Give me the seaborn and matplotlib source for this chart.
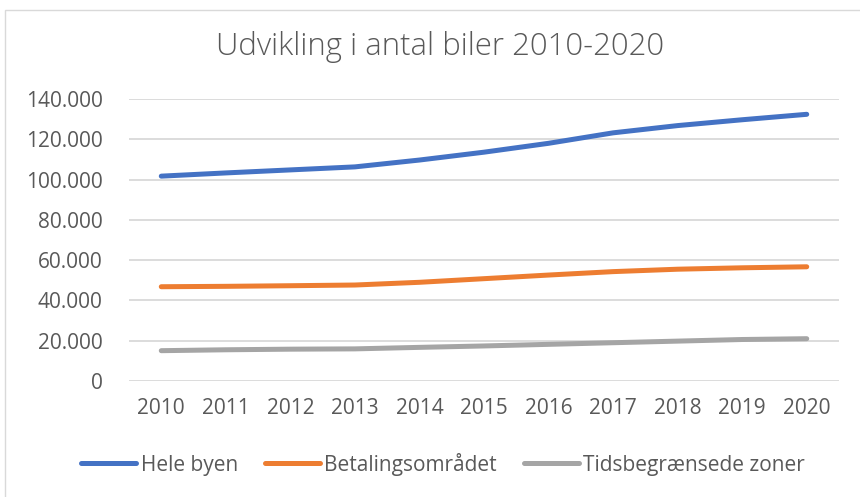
import numpy as np
import pandas as pd
import matplotlib
matplotlib.use("Agg")
import matplotlib.pyplot as plt
import seaborn as sns
from matplotlib.ticker import FuncFormatter
from matplotlib.patches import Rectangle

years = ["2010", "2011", "2012", "2013", "2014", "2015", "2016", "2017", "2018", "2019", "2020"]
hele_byen = [101700, 103300, 104800, 106300, 109700, 113600, 118000, 123200, 126800, 129700, 132400]
betaling = [46800, 47000, 47300, 47650, 49000, 50800, 52600, 54300, 55500, 56200, 56700]
tids = [15050, 15500, 15800, 15950, 16700, 17400, 18200, 19000, 19800, 20600, 21000]
series_names = ["Hele byen", "Betalingsområdet", "Tidsbegrænsede zoner"]
colors = ["#4472C4", "#ED7D31", "#A5A5A5"]
title = "Udvikling i antal biler 2010-2020"
yticks = [0, 20000, 40000, 60000, 80000, 100000, 120000, 140000]

rows = []
for name, vals in zip(series_names, [hele_byen, betaling, tids]):
    for i, (y, v) in enumerate(zip(years, vals)):
        rows.append({"idx": i, "year": y, "value": v, "serie": name})
df = pd.DataFrame(rows)

sns.set_theme(style="white")
plt.rcParams["font.family"] = ["Open Sans", "DejaVu Sans"]

fig = plt.figure(figsize=(8.6, 4.97), dpi=100)
ax = fig.add_axes([129/860, (497-381)/497, (839-129)/860, (381-99)/497])

sns.lineplot(data=df, x="idx", y="value", hue="serie", hue_order=series_names,
             palette=colors, linewidth=3.6, ax=ax, legend=True,
             solid_capstyle="round", solid_joinstyle="round")

ax.set_xlim(-0.5, len(years) - 0.5)
ax.set_ylim(0, 140000)
ax.set_yticks(yticks)
ax.yaxis.set_major_formatter(FuncFormatter(lambda v, p: f"{int(v):,}".replace(",", ".")))
ax.set_xticks(range(len(years)))
ax.set_xticklabels(years)
ax.grid(axis="y", color="#D9D9D9", linewidth=1.3)
ax.set_axisbelow(True)
for s in ax.spines.values():
    s.set_visible(False)
ax.tick_params(axis="both", length=0, labelsize=15, labelcolor="#595959")
ax.tick_params(axis="x", pad=12)
ax.tick_params(axis="y", pad=19)
ax.set_xlabel("")
ax.set_ylabel("")

fig.text(440/860, 1 - 47/497, title, ha="center", va="center", fontsize=22.4,
         color="#595959", fontweight="light")

handles, labels = ax.get_legend_handles_labels()
leg = ax.legend(handles, labels, loc="center", bbox_to_anchor=(443/860, (497-464)/497),
                bbox_transform=fig.transFigure, ncol=3, frameon=False, fontsize=15,
                handlelength=2.64, handletextpad=0.2, columnspacing=1.3,
                labelcolor="#595959")
for line in leg.get_lines():
    line.set_linewidth(3.6)
    line.set_solid_capstyle("round")

fig.patches.append(Rectangle((5/860, -0.1), 1.0, 1 - 10/497 + 0.1, transform=fig.transFigure,
                             fill=False, edgecolor="#D9D9D9", linewidth=1.0))

fig.savefig("out.png", dpi=100)
